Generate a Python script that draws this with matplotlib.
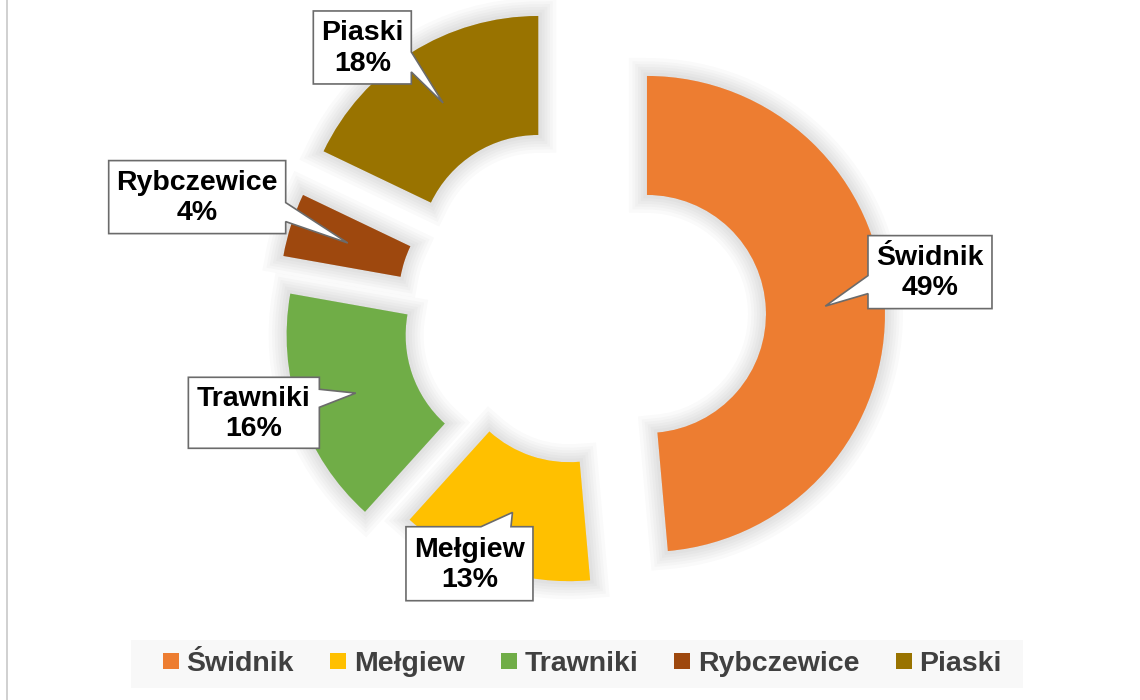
import numpy as np
import matplotlib
matplotlib.use('Agg')
import matplotlib.pyplot as plt
from matplotlib.patches import Polygon, Rectangle
from matplotlib.lines import Line2D
import matplotlib.patheffects as pe

# ---------------- data ----------------
categories = ['Świdnik', 'Mełgiew', 'Trawniki', 'Rybczewice', 'Piaski']
values = [48.6, 13.1, 16.1, 4.3, 17.9]
colors = ['#ED7D31', '#FFC000', '#70AD47', '#9E480E', '#997300']
explode_frac = [0.29, 0.116, 0.237, 0.266, 0.313]

# ---------------- layout (pixels, y downwards) ----------------
W, H = 1140, 700
R = 238
CX, CY = 578, 317
# label box: centre offset from pointer tip (dx, dy), size (w, h), pointer side, base range
label_layout = {
    'Świdnik':    dict(off=(104.7, -34.0), size=(124, 73), side='left',  base=(40, 58)),
    'Mełgiew':    dict(off=(-43.0, 51.3),  size=(127, 74), side='top',   base=(75, 105)),
    'Trawniki':   dict(off=(-101.9, 19.7), size=(131, 71), side='right', base=(12, 30)),
    'Rybczewice': dict(off=(-150.6, -45.9), size=(177, 73), side='right', base=(42, 61)),
    'Piaski':     dict(off=(-80.8, -55.5), size=(98, 73),  side='right', base=(41, 61)),
}

FONT = 'Liberation Sans'

fig = plt.figure(figsize=(W / 100, H / 100), dpi=100)
ax = fig.add_axes([0, 0, 1, 1])

shadow = [pe.Stroke(linewidth=w, foreground='black', alpha=0.018)
          for w in (26, 21, 17, 13, 9, 5)] + [pe.Normal()]

wedges, _ = ax.pie(values, radius=R, center=(CX, H - CY), startangle=90, counterclock=False,
                   colors=colors, explode=[e * R for e in explode_frac],
                   wedgeprops=dict(width=R / 2, linewidth=0, path_effects=shadow), frame=True)

ax.set_xlim(0, W)
ax.set_ylim(0, H)
ax.set_aspect('auto')
ax.axis('off')

total = sum(values)
for wdg, cat, v in zip(wedges, categories, values):
    th = np.deg2rad((wdg.theta1 + wdg.theta2) / 2)
    rm = wdg.r - wdg.width / 2
    tx = wdg.center[0] + rm * np.cos(th)
    ty = wdg.center[1] + rm * np.sin(th)
    lay = label_layout[cat]
    bx, by = tx + lay['off'][0], ty - lay['off'][1]
    bw, bh = lay['size']
    L, Rr, T, B = bx - bw / 2, bx + bw / 2, by + bh / 2, by - bh / 2
    a, b = lay['base']
    side = lay['side']
    pts = [(L, T)]
    if side == 'top':
        pts += [(L + a, T), (tx, ty), (L + b, T)]
    pts += [(Rr, T)]
    if side == 'right':
        pts += [(Rr, T - a), (tx, ty), (Rr, T - b)]
    pts += [(Rr, B), (L, B)]
    if side == 'left':
        pts += [(L, T - b), (tx, ty), (L, T - a)]
    poly = Polygon(pts, closed=True, facecolor='white', edgecolor='#6b6b6b',
                   linewidth=1.2, joinstyle='miter', zorder=5)
    ax.add_patch(poly)
    pct = round(v / total * 100)
    ax.text(bx, by - 1, f'{cat}\n{pct}%', ha='center', va='center', fontsize=20.5,
            fontweight='bold', family=FONT, color='black', linespacing=1.22, zorder=6)

# legend background
ax.add_patch(Rectangle((131, H - 688), 892, 48, facecolor='#f8f8f8', edgecolor='none', zorder=1))

handles = [Line2D([], [], marker='s', linestyle='none', markersize=11,
                  markerfacecolor=c, markeredgewidth=0) for c in colors]
leg = fig.legend(handles, categories, loc='center', bbox_to_anchor=(582 / W, 1 - 664 / H),
                 ncol=5, frameon=False,
                 prop=dict(family=FONT, weight='bold', size=20.5), labelcolor='#404040',
                 handlelength=0.6, handletextpad=0.25, columnspacing=1.25,
                 borderpad=0.0, borderaxespad=0)

# left border of the chart area
fig.add_artist(Line2D([6.5 / W, 6.5 / W], [0, 1], color='#c8c8c8', linewidth=1.2))

fig.savefig('out.png', dpi=100, facecolor='white')
